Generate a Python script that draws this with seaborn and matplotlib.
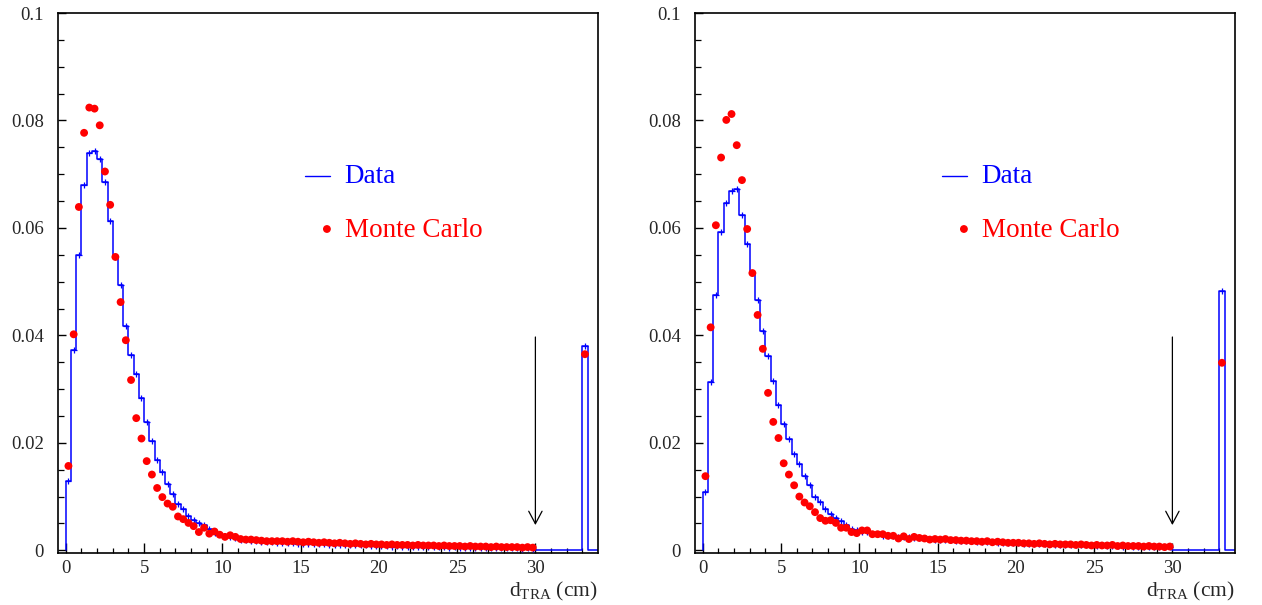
import numpy as np
import pandas as pd
import matplotlib
matplotlib.use("Agg")
import matplotlib.pyplot as plt
import seaborn as sns

# ---------------- data (bin width 1/3 cm, 0-30 cm, plus an overflow bin) -------------
bin_width = 1.0 / 3.0
n_main = 90
x_max = 34.0
overflow_center = 33.0 + bin_width / 2
cut = 30.0

data_left = [
    0.0129, 0.0373, 0.0549, 0.0680, 0.0739, 0.0744, 0.0729, 0.0685, 0.0613, 0.0546,
    0.0493, 0.0417, 0.0364, 0.0329, 0.0283, 0.0239, 0.0204, 0.0169, 0.0146, 0.0123,
    0.0104, 0.0086, 0.0076, 0.0064, 0.0056, 0.0051, 0.0047, 0.0039, 0.0032, 0.0031,
    0.0026, 0.0025, 0.0022, 0.0020, 0.0019, 0.0018, 0.0017, 0.0016, 0.0016, 0.0015,
    0.0014, 0.0014, 0.0013, 0.0013, 0.0012, 0.0012, 0.0012, 0.0011, 0.0011, 0.0011,
    0.0010, 0.0010, 0.0010, 0.0009, 0.0010, 0.0009, 0.0009, 0.0009, 0.0008, 0.0008,
    0.0008, 0.0008, 0.0007, 0.0008, 0.0007, 0.0007, 0.0007, 0.0007, 0.0006, 0.0007,
    0.0006, 0.0006, 0.0006, 0.0005, 0.0006, 0.0005, 0.0005, 0.0005, 0.0005, 0.0005,
    0.0004, 0.0005, 0.0004, 0.0004, 0.0004, 0.0004, 0.0004, 0.0003, 0.0004, 0.0003,
]
mc_left = [
    0.0157, 0.0402, 0.0639, 0.0777, 0.0824, 0.0822, 0.0791, 0.0705, 0.0643, 0.0546,
    0.0462, 0.0391, 0.0317, 0.0246, 0.0208, 0.0166, 0.0141, 0.0116, 0.0099, 0.0087,
    0.0081, 0.0063, 0.0058, 0.0051, 0.0045, 0.0034, 0.0042, 0.0031, 0.0035, 0.0029,
    0.0025, 0.0028, 0.0025, 0.0021, 0.0020, 0.0020, 0.0019, 0.0018, 0.0017, 0.0017,
    0.0017, 0.0017, 0.0016, 0.0017, 0.0016, 0.0015, 0.0016, 0.0015, 0.0014, 0.0015,
    0.0014, 0.0013, 0.0014, 0.0013, 0.0012, 0.0013, 0.0012, 0.0011, 0.0012, 0.0011,
    0.0011, 0.0010, 0.0011, 0.0010, 0.0010, 0.0010, 0.0009, 0.0010, 0.0009, 0.0009,
    0.0009, 0.0008, 0.0009, 0.0008, 0.0008, 0.0008, 0.0007, 0.0008, 0.0007, 0.0007,
    0.0007, 0.0006, 0.0007, 0.0006, 0.0006, 0.0006, 0.0006, 0.0005, 0.0006, 0.0005,
]
data_right = [
    0.0108, 0.0313, 0.0476, 0.0592, 0.0647, 0.0668, 0.0673, 0.0624, 0.0570, 0.0516,
    0.0465, 0.0409, 0.0361, 0.0315, 0.0271, 0.0236, 0.0208, 0.0179, 0.0161, 0.0139,
    0.0122, 0.0099, 0.0090, 0.0076, 0.0068, 0.0060, 0.0055, 0.0047, 0.0040, 0.0037,
    0.0034, 0.0034, 0.0031, 0.0030, 0.0027, 0.0027, 0.0026, 0.0025, 0.0024, 0.0024,
    0.0023, 0.0022, 0.0022, 0.0021, 0.0020, 0.0020, 0.0019, 0.0019, 0.0018, 0.0018,
    0.0017, 0.0017, 0.0016, 0.0016, 0.0015, 0.0015, 0.0014, 0.0014, 0.0013, 0.0013,
    0.0013, 0.0012, 0.0012, 0.0012, 0.0011, 0.0011, 0.0011, 0.0010, 0.0010, 0.0010,
    0.0010, 0.0009, 0.0009, 0.0009, 0.0009, 0.0008, 0.0009, 0.0008, 0.0008, 0.0008,
    0.0007, 0.0008, 0.0007, 0.0007, 0.0007, 0.0007, 0.0006, 0.0006, 0.0006, 0.0006,
]
mc_right = [
    0.0138, 0.0415, 0.0605, 0.0731, 0.0801, 0.0812, 0.0754, 0.0689, 0.0598, 0.0516,
    0.0438, 0.0375, 0.0293, 0.0239, 0.0209, 0.0162, 0.0141, 0.0121, 0.0100, 0.0089,
    0.0082, 0.0071, 0.0060, 0.0055, 0.0056, 0.0051, 0.0042, 0.0042, 0.0034, 0.0032,
    0.0037, 0.0037, 0.0030, 0.0030, 0.0030, 0.0027, 0.0027, 0.0022, 0.0026, 0.0021,
    0.0025, 0.0023, 0.0022, 0.0020, 0.0021, 0.0020, 0.0021, 0.0019, 0.0019, 0.0018,
    0.0018, 0.0017, 0.0017, 0.0016, 0.0017, 0.0015, 0.0016, 0.0015, 0.0014, 0.0014,
    0.0014, 0.0013, 0.0013, 0.0012, 0.0013, 0.0012, 0.0011, 0.0012, 0.0011, 0.0011,
    0.0011, 0.0010, 0.0011, 0.0010, 0.0009, 0.0010, 0.0009, 0.0009, 0.0010, 0.0008,
    0.0009, 0.0008, 0.0008, 0.0008, 0.0007, 0.0008, 0.0007, 0.0007, 0.0006, 0.0007,
]
overflow_data = [0.0381, 0.0482]
overflow_mc = [0.0365, 0.0349]

x_ticks = [0, 5, 10, 15, 20, 25, 30]
y_ticks = [0, 0.02, 0.04, 0.06, 0.08, 0.1]
y_tick_labels = ["0", "0.02", "0.04", "0.06", "0.08", "0.1"]
legend_labels = ["Data", "Monte Carlo"]
x_label = r"d$_{\rm TRA}$ (cm)"

# ---------------- style ----------------
sns.set_style("white")
plt.rcParams["font.family"] = ["Liberation Serif", "DejaVu Serif"]
plt.rcParams["mathtext.fontset"] = "custom"
plt.rcParams["mathtext.rm"] = "Liberation Serif"
plt.rcParams["mathtext.it"] = "Liberation Serif:italic"

BLUE = "#0000ff"
RED = "#ff0000"

fig = plt.figure(figsize=(12.62, 6.05), dpi=100)
W, H = 1262, 605
ax_l = fig.add_axes([58 / W, 1 - 553 / H, 540 / W, 540 / H])
ax_r = fig.add_axes([695 / W, 1 - 553 / H, 540 / W, 540 / H])

n_all = int(round(x_max / bin_width))
edges = np.arange(n_all + 1) * bin_width
centers = edges[:-1] + bin_width / 2

for ax, dvals, mvals, ovd, ovm in [
    (ax_l, data_left, mc_left, overflow_data[0], overflow_mc[0]),
    (ax_r, data_right, mc_right, overflow_data[1], overflow_mc[1]),
]:
    w = np.zeros(n_all)
    w[:n_main] = dvals
    ov_idx = int(np.floor(overflow_center / bin_width))
    w[ov_idx] = ovd
    # step outline of the histogram (starts from the baseline at the first edge)
    step_x = np.concatenate([[edges[0]], edges])
    step_y = np.concatenate([[0.0], w, [w[-1]]])
    df_s = pd.DataFrame({"x": step_x, "y": step_y})
    sns.lineplot(data=df_s, x="x", y="y", estimator=None, sort=False,
                 drawstyle="steps-post", color=BLUE, linewidth=1.1, ax=ax)
    # small error crosses at bin centres
    df_d = pd.DataFrame({"x": centers, "w": w})
    nz = df_d[df_d["w"] > 0]
    sns.scatterplot(data=nz, x="x", y="w", marker="+", s=18, color=BLUE,
                    linewidth=0.9, ax=ax, zorder=4)
    # Monte Carlo points
    mc_x = list(centers[:n_main]) + [overflow_center]
    mc_y = list(mvals) + [ovm]
    df_m = pd.DataFrame({"x": mc_x, "y": mc_y})
    sns.scatterplot(data=df_m, x="x", y="y", color=RED, s=32, edgecolor="none",
                    ax=ax, zorder=5)

    ax.set_xlim(-0.5, x_max)
    ax.set_ylim(-0.0005, 0.1)
    ax.set_xticks(x_ticks)
    ax.set_xticks(np.arange(0, 34, 1), minor=True)
    ax.set_yticks(y_ticks)
    ax.set_yticklabels(y_tick_labels)
    ax.set_yticks(np.arange(0, 0.1001, 0.005), minor=True)
    ax.tick_params(axis="both", which="major", direction="in", width=1,
                   labelsize=13.5, color="black", bottom=True, left=True,
                   top=False, right=False)
    ax.tick_params(axis="x", which="major", length=7, pad=5)
    ax.tick_params(axis="y", which="major", length=5.5, pad=10)
    ax.tick_params(axis="x", which="minor", direction="in", length=3.5, width=0.9,
                   color="black", bottom=True, top=False)
    ax.tick_params(axis="y", which="minor", direction="in", length=4.5, width=0.9,
                   color="black", left=True, right=False)
    ax.set_xlabel("")
    ax.set_ylabel("")
    for sp in ax.spines.values():
        sp.set_visible(True)
        sp.set_color("black")
        sp.set_linewidth(1.2)

    # cut arrow
    ax.annotate("", xy=(cut, 0.0047), xytext=(cut, 0.0397),
                arrowprops=dict(arrowstyle="->,head_length=0.75,head_width=0.4",
                                color="black", lw=0.9, mutation_scale=12,
                                shrinkA=0, shrinkB=0))

    # legend
    ax.plot([0.457, 0.504], [0.699, 0.699], transform=ax.transAxes, color=BLUE, lw=1)
    ax.text(0.531, 0.697, legend_labels[0], transform=ax.transAxes, color=BLUE,
            fontsize=19.5, va="center", ha="left")
    ax.scatter([0.498], [0.600], transform=ax.transAxes, color=RED, s=32,
               edgecolor="none")
    ax.text(0.531, 0.598, legend_labels[1], transform=ax.transAxes, color=RED,
            fontsize=19.5, va="center", ha="left")

    ax.text(1.0, -0.05, x_label, transform=ax.transAxes, ha="right", va="top",
            fontsize=15.5)

fig.savefig("out.png", dpi=100)
